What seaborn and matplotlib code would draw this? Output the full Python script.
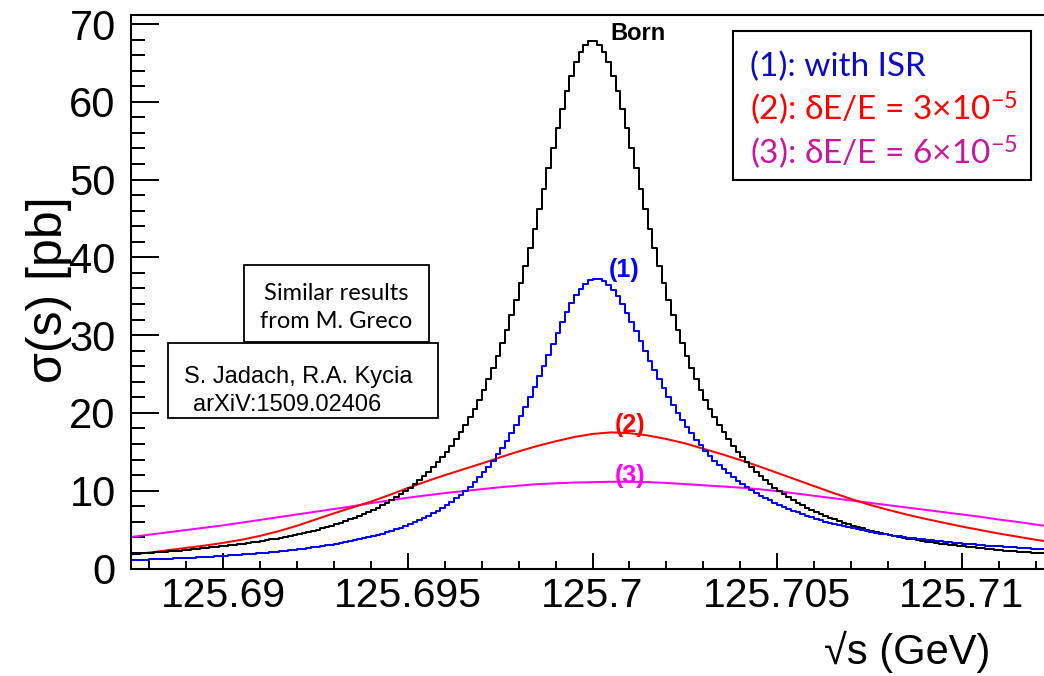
import numpy as np
import pandas as pd
import matplotlib
matplotlib.use("Agg")
import matplotlib.pyplot as plt
from matplotlib.patches import Rectangle
from matplotlib.ticker import MultipleLocator, FixedLocator, FixedFormatter
import seaborn as sns

# sqrt(s) window (GeV) and histogram binning
sqrt_s_range = (125.6875, 125.7125)
n_bins = 200
n_smooth = 51

# Born cross section per bin (pb)
born_xsec = [
    1.88, 1.92, 1.96, 2.00, 2.04, 2.08, 2.12, 2.17, 2.21, 2.26,
    2.31, 2.36, 2.41, 2.47, 2.52, 2.58, 2.64, 2.70, 2.77, 2.83,
    2.90, 2.97, 3.05, 3.12, 3.20, 3.29, 3.37, 3.46, 3.55, 3.65,
    3.75, 3.85, 3.96, 4.07, 4.19, 4.31, 4.44, 4.58, 4.72, 4.86,
    5.01, 5.17, 5.34, 5.52, 5.70, 5.89, 6.09, 6.31, 6.53, 6.77,
    7.01, 7.27, 7.55, 7.84, 8.15, 8.47, 8.81, 9.18, 9.56, 9.97,
    10.40, 10.86, 11.35, 11.87, 12.42, 13.01, 13.64, 14.32, 15.04, 15.81,
    16.63, 17.51, 18.45, 19.47, 20.55, 21.72, 22.96, 24.30, 25.74, 27.28,
    28.93, 30.69, 32.56, 34.56, 36.68, 38.91, 41.26, 43.70, 46.23, 48.83,
    51.45, 54.06, 56.62, 59.06, 61.33, 63.35, 65.07, 66.43, 67.36, 67.84,
    67.84, 67.36, 66.43, 65.07, 63.35, 61.33, 59.06, 56.62, 54.06, 51.45,
    48.83, 46.23, 43.70, 41.26, 38.91, 36.68, 34.56, 32.56, 30.69, 28.93,
    27.28, 25.74, 24.30, 22.96, 21.72, 20.55, 19.47, 18.45, 17.51, 16.63,
    15.81, 15.04, 14.32, 13.64, 13.01, 12.42, 11.87, 11.35, 10.86, 10.40,
    9.97, 9.56, 9.18, 8.81, 8.47, 8.15, 7.84, 7.55, 7.27, 7.01,
    6.77, 6.53, 6.31, 6.09, 5.89, 5.70, 5.52, 5.34, 5.17, 5.01,
    4.86, 4.72, 4.58, 4.44, 4.31, 4.19, 4.07, 3.96, 3.85, 3.75,
    3.65, 3.55, 3.46, 3.37, 3.29, 3.20, 3.12, 3.05, 2.97, 2.90,
    2.83, 2.77, 2.70, 2.64, 2.58, 2.52, 2.47, 2.41, 2.36, 2.31,
    2.26, 2.21, 2.17, 2.12, 2.08, 2.04, 2.00, 1.96, 1.92, 1.88,
]

# (1) with initial-state radiation, per bin (pb)
isr_xsec = [
    1.08, 1.10, 1.12, 1.14, 1.17, 1.19, 1.21, 1.24, 1.26, 1.29,
    1.32, 1.35, 1.37, 1.40, 1.44, 1.47, 1.50, 1.53, 1.57, 1.61,
    1.64, 1.68, 1.72, 1.77, 1.81, 1.86, 1.90, 1.95, 2.00, 2.05,
    2.11, 2.17, 2.23, 2.29, 2.35, 2.42, 2.49, 2.56, 2.64, 2.72,
    2.80, 2.89, 2.98, 3.07, 3.17, 3.28, 3.39, 3.50, 3.62, 3.75,
    3.88, 4.02, 4.17, 4.33, 4.49, 4.67, 4.85, 5.05, 5.25, 5.47,
    5.70, 5.95, 6.20, 6.48, 6.78, 7.10, 7.43, 7.79, 8.17, 8.58,
    9.01, 9.48, 9.98, 10.52, 11.09, 11.70, 12.36, 13.07, 13.84, 14.66,
    15.52, 16.45, 17.44, 18.49, 19.61, 20.79, 22.04, 23.33, 24.69, 26.08,
    27.49, 28.92, 30.31, 31.66, 32.93, 34.10, 35.12, 35.97, 36.61, 37.03,
    37.23, 37.22, 36.96, 36.50, 35.82, 34.98, 33.99, 32.90, 31.72, 30.48,
    29.24, 27.97, 26.72, 25.50, 24.30, 23.17, 22.07, 21.02, 20.03, 19.09,
    18.21, 17.38, 16.57, 15.83, 15.13, 14.48, 13.86, 13.28, 12.74, 12.23,
    11.74, 11.29, 10.86, 10.46, 10.08, 9.72, 9.38, 9.06, 8.75, 8.47,
    8.19, 7.93, 7.67, 7.42, 7.20, 6.98, 6.77, 6.57, 6.38, 6.21,
    6.04, 5.87, 5.72, 5.57, 5.43, 5.29, 5.16, 5.03, 4.91, 4.80,
    4.69, 4.58, 4.48, 4.39, 4.30, 4.21, 4.12, 4.04, 3.96, 3.89,
    3.82, 3.75, 3.68, 3.61, 3.54, 3.48, 3.42, 3.36, 3.30, 3.25,
    3.20, 3.14, 3.09, 3.05, 3.00, 2.95, 2.91, 2.87, 2.83, 2.79,
    2.74, 2.70, 2.66, 2.63, 2.59, 2.56, 2.52, 2.49, 2.46, 2.43,
]

# (2) ISR + beam energy spread dE/E = 3e-5, every 0.5 MeV (pb)
spread3_xsec = [
    1.80, 2.05, 2.35, 2.65, 2.95, 3.30, 3.70, 4.20, 4.80, 5.50,
    6.30, 7.10, 7.85, 8.60, 9.45, 10.35, 11.20, 12.00, 12.75, 13.50,
    14.30, 15.05, 15.75, 16.35, 16.90, 17.30, 17.50, 17.40, 17.10, 16.65,
    16.10, 15.40, 14.70, 13.95, 13.15, 12.30, 11.45, 10.60, 9.75, 8.95,
    8.20, 7.55, 6.95, 6.40, 5.90, 5.40, 4.95, 4.50, 4.10, 3.70,
    3.35,
]

# (3) ISR + beam energy spread dE/E = 6e-5, every 0.5 MeV (pb)
spread6_xsec = [
    4.05, 4.35, 4.65, 4.95, 5.25, 5.55, 5.90, 6.25, 6.60, 6.95,
    7.30, 7.65, 8.00, 8.40, 8.75, 9.10, 9.40, 9.70, 9.95, 10.20,
    10.45, 10.65, 10.85, 10.95, 11.05, 11.10, 11.15, 11.15, 11.10, 11.00,
    10.85, 10.70, 10.55, 10.40, 10.20, 9.95, 9.65, 9.35, 9.05, 8.75,
    8.45, 8.15, 7.85, 7.55, 7.25, 6.95, 6.65, 6.30, 6.00, 5.65,
    5.35,
]

x_ticks = [125.69, 125.695, 125.7, 125.705, 125.71]
x_tick_labels = ["125.69", "125.695", "125.7", "125.705", "125.71"]
y_ticks = [0, 10, 20, 30, 40, 50, 60, 70]
y_tick_labels = ["0", "10", "20", "30", "40", "50", "60", "70"]

sns.set_style("white")
plt.rcParams["font.family"] = ["Liberation Sans", "DejaVu Sans"]
plt.rcParams["text.color"] = "black"
plt.rcParams["axes.labelcolor"] = "black"
plt.rcParams["xtick.color"] = "black"
plt.rcParams["ytick.color"] = "black"
plt.rcParams["mathtext.fontset"] = "custom"
plt.rcParams["mathtext.rm"] = "Lato"
plt.rcParams["mathtext.default"] = "regular"

W, H = 1044, 676
fig = plt.figure(figsize=(W / 100, H / 100), dpi=100)


def fx(px):
    return px / W


def fy(py):
    return 1 - py / H


ax = fig.add_axes([fx(131), fy(568.5), (1054 - 131) / W, (568.5 - 14.7) / H])

edges = np.linspace(sqrt_s_range[0], sqrt_s_range[1], n_bins + 1)
centers = 0.5 * (edges[:-1] + edges[1:])
hist_df = pd.DataFrame({"sqrt_s": centers, "born": born_xsec, "isr": isr_xsec})

smooth_x = np.linspace(sqrt_s_range[0], sqrt_s_range[1], n_smooth)
smooth_df = pd.DataFrame({"sqrt_s": smooth_x, "s3": spread3_xsec, "s6": spread6_xsec})

lw = 1.45
sns.lineplot(data=smooth_df, x="sqrt_s", y="s6", color="#FF00FF", linewidth=lw, ax=ax)
sns.lineplot(data=smooth_df, x="sqrt_s", y="s3", color="#FF0000", linewidth=lw, ax=ax)
sns.histplot(data=hist_df, x="sqrt_s", weights="born", bins=n_bins, binrange=sqrt_s_range,
             element="step", fill=False, color="black", linewidth=lw, ax=ax)
sns.histplot(data=hist_df, x="sqrt_s", weights="isr", bins=n_bins, binrange=sqrt_s_range,
             element="step", fill=False, color="#0000FF", linewidth=lw, ax=ax)

ax.set_xlim(*sqrt_s_range)
ax.set_ylim(0, 71.2)
ax.set_xlabel("")
ax.set_ylabel("")

ax.xaxis.set_major_locator(FixedLocator(x_ticks))
ax.xaxis.set_major_formatter(FixedFormatter(x_tick_labels))
ax.xaxis.set_minor_locator(MultipleLocator(0.001))
ax.yaxis.set_major_locator(FixedLocator(y_ticks))
ax.yaxis.set_major_formatter(FixedFormatter(y_tick_labels))
ax.yaxis.set_minor_locator(MultipleLocator(2))

ax.tick_params(axis="both", which="both", direction="in", width=1.4, colors="black",
               labelcolor="black", bottom=True, left=True, top=False, right=False)
ax.tick_params(axis="x", which="major", length=11.5, labelsize=29.5, pad=6)
ax.tick_params(axis="x", which="minor", length=5.8)
ax.tick_params(axis="y", which="major", length=20, labelsize=30, pad=11)
ax.tick_params(axis="y", which="minor", length=10)
for sp in ax.spines.values():
    sp.set_visible(True)
    sp.set_linewidth(1.5)
    sp.set_color("black")

# axis titles
fig.text(fx(49), fy(290), "σ(s) [pb]", rotation=90, fontsize=36, ha="center", va="center")
fig.text(fx(990), fy(652), "√s (GeV)", fontsize=30, ha="right", va="center")

# curve labels
fig.text(fx(638), fy(33), "Born", fontsize=17, fontweight="bold", ha="center", va="center")
fig.text(fx(624), fy(270), "(1)", fontsize=18, fontweight="bold", color="#0000FF",
         ha="center", va="center")
fig.text(fx(630), fy(425), "(2)", fontsize=18, fontweight="bold", color="#FF0000",
         ha="center", va="center")
fig.text(fx(630), fy(476), "(3)", fontsize=18, fontweight="bold", color="#FF00FF",
         ha="center", va="center")

# legend box
fig.patches.append(Rectangle((fx(733), fy(180)), (1031 - 733) / W, (180 - 31) / H,
                             transform=fig.transFigure, facecolor="white",
                             edgecolor="black", linewidth=1.5, zorder=5))
leg_fam = ["Lato", "DejaVu Sans"]
fig.text(fx(750), fy(76), "(1): with ISR", fontsize=24, color="#0A0AC8",
         family=leg_fam, va="baseline", zorder=6)
fig.text(fx(750), fy(120), r"(2): δE/E = 3×10$^{-5}$", fontsize=24, color="#FF0000",
         family=leg_fam, va="baseline", zorder=6)
fig.text(fx(750), fy(164), r"(3): δE/E = 6×10$^{-5}$", fontsize=24, color="#C8169E",
         family=leg_fam, va="baseline", zorder=6)

# reference boxes
fig.patches.append(Rectangle((fx(244), fy(342)), (429 - 244) / W, (342 - 265) / H,
                             transform=fig.transFigure, facecolor="white",
                             edgecolor="black", linewidth=1.3, zorder=5))
fig.text(fx(336.5), fy(300), "Similar results", fontsize=17, family=leg_fam,
         ha="center", va="baseline", zorder=6)
fig.text(fx(336.5), fy(328), "from M. Greco", fontsize=17, family=leg_fam,
         ha="center", va="baseline", zorder=6)

fig.patches.append(Rectangle((fx(168), fy(418)), (438 - 168) / W, (418 - 343) / H,
                             transform=fig.transFigure, facecolor="white",
                             edgecolor="black", linewidth=1.3, zorder=5))
fig.text(fx(184), fy(383), "S. Jadach, R.A. Kycia", fontsize=17, va="baseline", zorder=6)
fig.text(fx(193), fy(411), "arXiV:1509.02406", fontsize=17, va="baseline", zorder=6)

fig.savefig("out.png", dpi=100)
